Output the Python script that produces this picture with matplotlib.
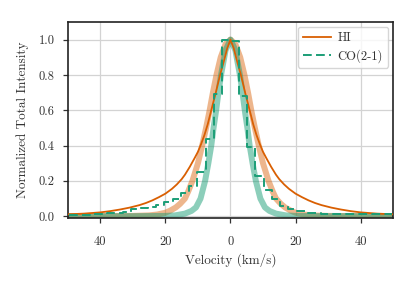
import matplotlib
matplotlib.use("Agg")
import matplotlib.pyplot as plt

plt.rcParams['font.family'] = 'serif'
plt.rcParams['font.serif'] = ['cmr10', 'DejaVu Serif']
plt.rcParams['mathtext.fontset'] = 'cm'
plt.rcParams['axes.formatter.use_mathtext'] = True

# ---- data ----
hi_vel = [-50, -45, -40, -37, -34, -31, -28, -26, -24, -22, -20, -18, -16.5, -15, -14, -12.5, -11, -10, -9, -8, -7, -5.9, -4.5, -3.2, -2, -1, 0,
          1, 2, 3.2, 4.5, 5.9, 7, 8, 9, 10, 11, 12.5, 14, 15, 16.5, 18, 20, 22, 24, 26, 28, 31, 34, 37, 40, 45, 50]
hi_int = [0.011, 0.015, 0.022, 0.029, 0.038, 0.049, 0.063, 0.075, 0.09, 0.108, 0.128, 0.155, 0.18, 0.21, 0.235, 0.28, 0.33, 0.365, 0.41, 0.46, 0.52, 0.6, 0.7, 0.8, 0.88, 0.95, 1.0,
          0.95, 0.88, 0.8, 0.7, 0.6, 0.52, 0.46, 0.41, 0.365, 0.33, 0.28, 0.235, 0.21, 0.18, 0.155, 0.128, 0.108, 0.09, 0.075, 0.063, 0.049, 0.038, 0.029, 0.022, 0.015, 0.011]

hi_fit_vel = [-50, -40, -30, -25, -22.5, -20, -18.5, -16.8, -15.5, -14, -13, -11.7, -10, -8.7, -7.5, -6.4, -5.4, -4.3, -3, -1.5, 0,
              1.5, 3, 4.3, 5.4, 6.4, 7.5, 8.7, 10, 11.7, 13, 14, 15.5, 16.8, 18.5, 20, 22.5, 25, 30, 40, 50]
hi_fit_int = [0.0005, 0.001, 0.002, 0.005, 0.01, 0.02, 0.032, 0.05, 0.07, 0.1, 0.14, 0.2, 0.3, 0.4, 0.5, 0.6, 0.7, 0.8, 0.9, 0.975, 1.0,
              0.975, 0.9, 0.8, 0.7, 0.6, 0.5, 0.4, 0.3, 0.2, 0.14, 0.1, 0.07, 0.05, 0.032, 0.02, 0.01, 0.005, 0.002, 0.001, 0.0005]

co_fit_vel = [-50, -30, -20, -17, -14, -12, -10.6, -9.2, -7.8, -6.8, -5.9, -5.2, -4.4, -3.7, -2.9, -1.5, 0,
              1.5, 2.9, 3.7, 4.4, 5.2, 5.9, 6.8, 7.8, 9.2, 10.6, 12, 14, 17, 20, 30, 50]
co_fit_int = [0.0, 0.0005, 0.002, 0.005, 0.015, 0.03, 0.05, 0.1, 0.2, 0.3, 0.4, 0.5, 0.6, 0.7, 0.8, 0.94, 1.0,
              0.94, 0.8, 0.7, 0.6, 0.5, 0.4, 0.3, 0.2, 0.1, 0.05, 0.03, 0.015, 0.005, 0.002, 0.0005, 0.0]

co_vel = [-49.53, -46.99, -44.45, -41.91, -39.37, -36.83, -34.29, -31.75, -29.21, -26.67,
          -24.13, -21.59, -19.05, -16.51, -13.97, -11.43, -8.89, -6.35, -3.81, -1.27,
          1.27, 3.81, 6.35, 8.89, 11.43, 13.97, 16.51, 19.05, 21.59, 24.13,
          26.67, 29.21, 31.75, 34.29, 36.83, 39.37, 41.91, 44.45, 46.99, 49.53]
co_int = [0.005, 0.006, 0.008, 0.01, 0.015, 0.02, 0.02, 0.025, 0.04, 0.045,
          0.055, 0.065, 0.08, 0.10, 0.13, 0.17, 0.25, 0.44, 0.69, 1.0,
          0.99, 0.68, 0.39, 0.23, 0.15, 0.10, 0.06, 0.04, 0.03, 0.02,
          0.016, 0.015, 0.015, 0.014, 0.013, 0.012, 0.011, 0.01, 0.01, 0.01]

xticks = [-40, -20, 0, 20, 40]
xtick_labels = ['40', '20', '0', '20', '40']
yticks = [0.0, 0.2, 0.4, 0.6, 0.8, 1.0]
ytick_labels = ['0.0', '0.2', '0.4', '0.6', '0.8', '1.0']

orange = '#d95f02'
green = '#1b9e77'

fig = plt.figure(figsize=(4.16, 2.85), dpi=100)
ax = fig.add_axes([0.163, 0.235, 0.782, 0.688])

ax.grid(True, color='#d3d3d3', lw=0.9, zorder=0)
ax.set_axisbelow(True)

ax.plot(hi_fit_vel, hi_fit_int, color=orange, alpha=0.45, lw=4.3, solid_capstyle='butt', zorder=2)
ax.plot(co_fit_vel, co_fit_int, color=green, alpha=0.5, lw=4.3, solid_capstyle='butt', zorder=2)
ax.plot(hi_vel, hi_int, color=orange, lw=1.3, label='HI', zorder=3)
ax.plot(co_vel, co_int, color=green, lw=1.4, ls=(0, (4.5, 2.2)), drawstyle='steps-mid', label='CO(2-1)', zorder=4)

ax.set_xlim(-50, 50)
ax.set_ylim(-0.01, 1.1)
ax.set_xticks(xticks)
ax.set_xticklabels(xtick_labels)
ax.set_yticks(yticks)
ax.set_yticklabels(ytick_labels)
ax.tick_params(labelsize=9, colors='#333333', length=3.5, width=0.9)
ax.tick_params(axis='x', pad=9)
ax.tick_params(axis='y', pad=6)
for s in ax.spines.values():
    s.set_color('#222222')
    s.set_linewidth(1.2)

ax.set_xlabel('Velocity (km/s)', fontsize=9.5, color='#333333', labelpad=4)
ax.set_ylabel('Normalized Total Intensity', fontsize=9.5, color='#333333', labelpad=7)

leg = ax.legend(loc='upper right', fontsize=9, frameon=True, fancybox=True,
                edgecolor='#cccccc', handlelength=2.3, borderpad=0.4, labelspacing=0.4,
                handletextpad=0.5, borderaxespad=0.4)
for t in leg.get_texts():
    t.set_color('#333333')

fig.savefig('out.png', dpi=100)
